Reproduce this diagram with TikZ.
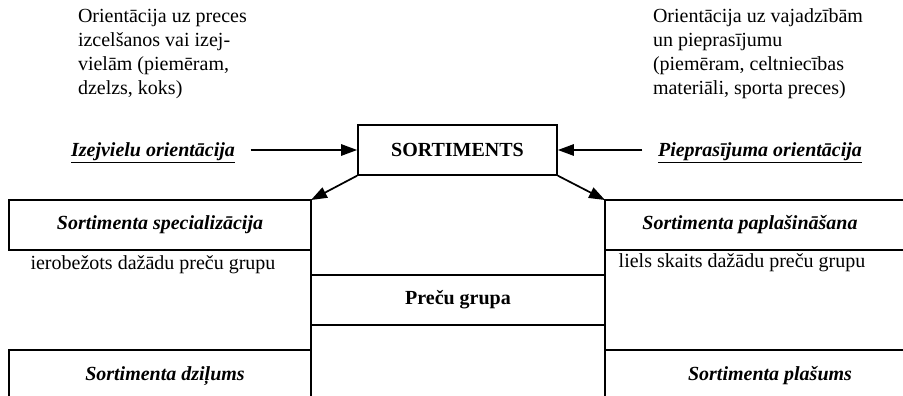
\documentclass[tikz,border=0pt]{standalone}
\usepackage{fontspec}
\setmainfont{Liberation Serif}
\usetikzlibrary{arrows.meta}
\begin{document}
\begin{tikzpicture}[x=0.75pt,y=-0.75pt,line width=1.5pt,
  txt/.style={font=\fontsize{15}{18}\selectfont,inner sep=0pt},
  boldtxt/.style={font=\fontsize{15}{18}\selectfont\bfseries,inner sep=0pt},
  bitxt/.style={font=\fontsize{15}{18}\selectfont\bfseries\itshape,inner sep=0pt},
  arr/.style={-{Triangle[length=12pt,width=8.5pt]},line width=1.3pt}]
\useasboundingbox (0,0) rectangle (903,396);

% notes
\node[txt,anchor=north west,align=left] (noteL) at (77,8)
  {Orientācija uz preces\\izcelšanos vai izej-\\vielām (piemēram,\\dzelzs, koks)};
\node[txt,anchor=north west,align=left] (noteR) at (652,8)
  {Orientācija uz vajadzībām\\un pieprasījumu\\(piemēram, celtniecības\\materiāli, sporta preces)};

% central box
\node[boldtxt,draw,minimum width=149pt,minimum height=37pt] (sort) at (457.5,150) {SORTIMENTS};

% side labels
\node[bitxt,anchor=base] (izej) at (153,156) {\underline{Izejvielu orientācija}};
\node[bitxt,anchor=base] (piepr) at (760,156) {\underline{Pieprasījuma orientācija}};

\draw[arr] ([xshift=11pt]sort.west -| izej.east) -- (sort.west);
\draw[arr] ([xshift=-11pt]sort.east -| piepr.west) -- (sort.east);

% frame coordinates
\coordinate (L0) at (9,200);
\coordinate (L1) at (311,200);
\coordinate (L1b) at (311,396);
\coordinate (R0) at (605,200);
\coordinate (R0b) at (605,396);
\coordinate (R1) at (903,200);

% left column
\draw (L0) rectangle (311,250);
\draw (L1) -- (L1b);
\draw (9,396) -- (9,350) -- (311,350);
\node[bitxt] (spec) at (160,225) {Sortimenta specializācija};
\node[txt] (ierob) at (153,265) {ierobežots dažādu preču grupu};
\node[bitxt] (dzil) at (165,376) {Sortimenta dziļums};

% middle
\draw (311,275) -- (605,275);
\draw (311,325) -- (605,325);
\node[boldtxt] (grupa) at (458,300) {Preču grupa};

% right column
\draw (R0b) -- (R0) -- (R1);
\draw (605,250) -- (903,250);
\draw (605,350) -- (903,350);
\node[bitxt] (papl) at (750,225) {Sortimenta paplašināšana};
\node[txt] (liels) at (742,263) {liels skaits dažādu preču grupu};
\node[bitxt] (plas) at (770,376) {Sortimenta plašums};

% arrows to columns
\draw[arr] (sort.south west) -- (L1);
\draw[arr] (sort.south east) -- (R0);
\end{tikzpicture}
\end{document}
